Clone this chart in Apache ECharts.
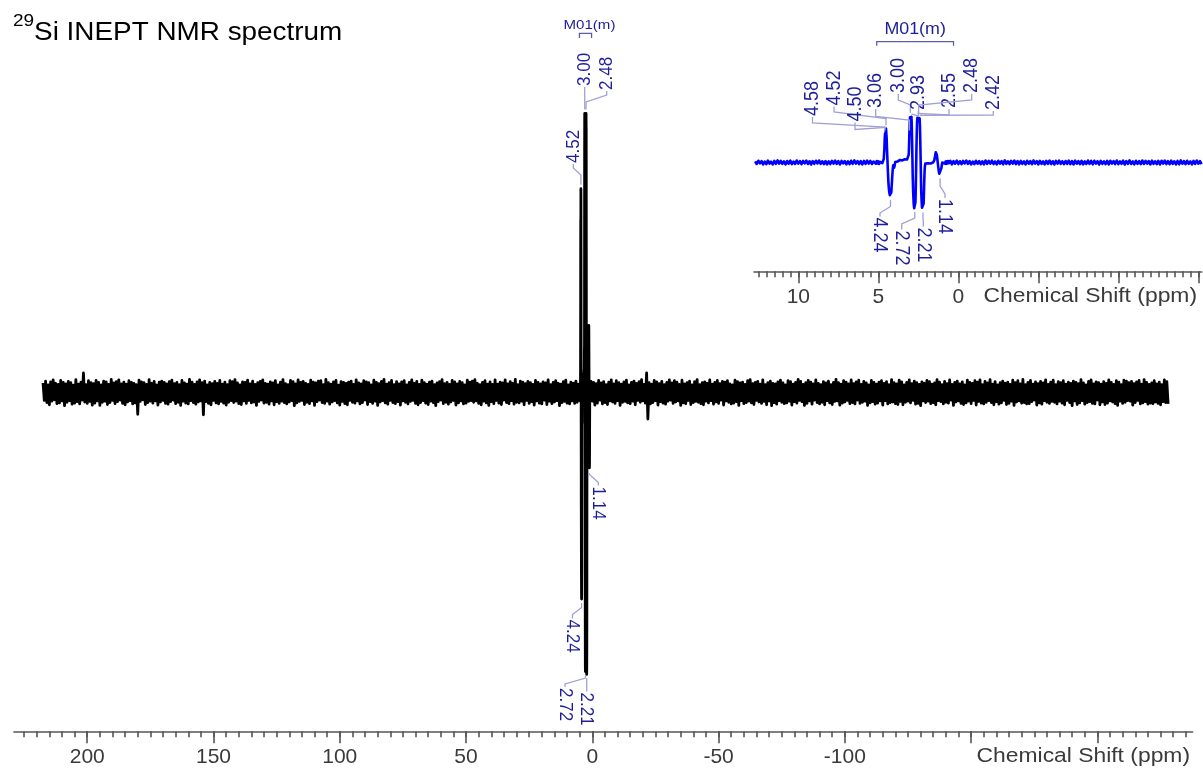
<!DOCTYPE html>
<html><head><meta charset="utf-8">
<script src="https://cdn.jsdelivr.net/npm/echarts@6/dist/echarts.min.js"></script>
<style>html,body{margin:0;padding:0;background:#fff}#c{width:1203px;height:772px}</style>
</head><body><div id="c"></div>
<script>
// ================= DATA =================
const titleSup = '29';
const titleMain = 'Si INEPT NMR spectrum';
const axisTitle = 'Chemical Shift (ppm)';

// main spectrum baseline noise, sampled every 0.5 ppm from 217.5 ppm (a.u.)
const mainPpmStart = 217.5, mainPpmStep = 0.5;
const mainNoise = [
 34,-28,41,-36,27,-44,38,-31,45,-26,33,-40,29,-37,43,-30,36,-47,31,-35,
 40,-29,35,-42,26,-38,46,-33,30,-41,37,-27,70,-34,28,-39,42,-32,35,-45,
 32,-38,43,-30,36,-46,27,-35,41,-31,38,-43,29,-36,47,-28,34,-40,39,-33,
 45,-27,31,-39,37,-44,30,-34,42,-29,36,-41,33,-37,28,-78,44,-32,38,-26,
 35,-43,29,-36,46,-31,33,-38,40,-30,27,-45,37,-34,41,-28,36,-39,31,-42,
 39,-33,44,-27,32,-40,36,-35,28,-46,43,-31,34,-38,30,-41,47,-29,37,-36,
 29,-42,38,-34,45,-30,35,-80,41,-33,27,-39,36,-44,32,-28,40,-37,33,-41,
 43,-32,30,-38,37,-45,28,-35,42,-29,39,-36,46,-31,34,-40,27,-43,38,-30,
 36,-39,44,-28,31,-37,41,-34,29,-46,35,-32,40,-27,45,-38,33,-35,30,-42,
 38,-30,34,-44,42,-33,27,-39,37,-31,46,-36,32,-41,28,-34,43,-29,39,-47,
 31,-37,45,-32,36,-28,40,-43,33,-35,29,-40,44,-30,37,-46,34,-33,41,-27,
 42,-36,28,-39,47,-31,35,-42,30,-34,38,-29,43,-37,26,-45,39,-32,36,-40,
 33,-44,37,-28,41,-35,29,-38,45,-30,34,-41,31,-36,42,-27,38,-43,35,-33,
 27,-39,44,-31,36,-46,32,-34,40,-29,47,-37,30,-42,35,-28,43,-36,28,-40,
 39,-33,31,-45,38,-30,42,-35,27,-41,36,-32,45,-28,33,-39,40,-44,29,-36,
 44,-29,35,-38,30,-43,37,-31,41,-36,28,-47,34,-33,39,-27,46,-40,32,-35,
 36,-42,29,-34,43,-28,38,-45,31,-37,40,-30,35,-41,27,-38,44,-32,37,-29,
 41,-35,46,-30,33,-39,28,-44,36,-31,42,-37,30,-46,38,-33,29,-40,45,-28,
 30,-38,37,-43,34,-27,45,-36,31,-40,39,-29,33,-42,47,-35,28,-37,41,-31,
 37,-44,32,-28,40,-39,35,-33,29,-45,43,-30,36,-38,31,-41,38,-27,34,-43,
 45,-31,28,-40,36,-34,42,-29,33,-47,30,-36,39,-32,44,-38,27,-41,37,-30,
 33,-39,41,-35,30,-44,38,-28,35,-42,29,-37,46,-33,40,-31,36,-45,32,-38,
 43,-27,34,-41,39,-36,28,-43,37,-30,45,-34,31,-39,42,-29,35,-46,30,-35,
 38,-32,44,-37,27,-40,36,-31,41,-44,33,-28,39,-35,46,-30,29,-38,70,-95,
 35,-41,30,-36,43,-29,38,-45,32,-33,40,-38,28,-42,36,-31,45,-27,34,-39,
 42,-34,37,-30,29,-46,44,-37,31,-40,35,-28,41,-43,27,-36,39,-32,46,-35,
 28,-40,35,-44,38,-31,33,-37,45,-29,30,-42,36,-34,43,-39,32,-27,40,-45,
 37,-30,42,-35,31,-41,27,-38,44,-33,39,-46,34,-29,37,-40,29,-36,42,-31,
 46,-37,32,-43,36,-28,40,-34,30,-39,45,-32,28,-44,35,-30,41,-47,33,-36,
 31,-42,38,-29,44,-35,34,-40,27,-37,42,-31,39,-45,30,-33,36,-38,47,-28,
 40,-33,29,-46,35,-39,43,-30,37,-42,31,-27,45,-36,33,-41,28,-35,39,-44,
 34,-29,41,-37,28,-43,36,-32,47,-30,35,-45,30,-38,42,-34,37,-28,31,-40,
 45,-36,32,-41,38,-27,44,-39,29,-35,40,-31,34,-46,27,-37,43,-33,36,-42,
 30,-38,37,-30,42,-45,33,-29,39,-41,28,-36,46,-34,35,-40,31,-43,44,-32,
 38,-44,27,-35,36,-31,45,-37,32,-28,41,-42,35,-39,29,-47,38,-30,33,-36,
 43,-31,39,-40,30,-36,34,-44,46,-29,37,-33,28,-41,40,-35,32,-38,45,-27,
 29,-46,36,-34,41,-30,31,-39,38,-43,27,-37,44,-31,36,-40,33,-28,42,-45,
 37,-32,45,-38,28,-41,40,-35,34,-29,46,-36,30,-44,39,-33,27,-42,35,-37,
 41,-28,33,-43,37,-39,29,-31,44,-46,35,-34,42,-30,31,-38,47,-36,28,-41,
 36,-40,43,-33,30,-27,38,-45,32,-37,40,-42,34,-29,45,-35,29,-39,37,-32,
 44,-35,28,-41,39,-31,35,-38,42,-44,30,-28,37,-36,33,-47,41,-30,36,-43,
 32,-37,46,-29,34,-42,27,-36,40,-33,45,-39,31,-41,38,-27,35,-44,30,-34,
 39,-43,33,-38,45,-30,36,-34,29,-40,42,-46,37,-31,28,-39,44,-35,41,-29,
 35,-31,40,-45,32,-36,38,-28,43,-41,30,-37,46,-33,36,-42,29,-38,34,-40,
 42,-34,31,-39,37,-44,28,-33,45,-36,39,-41
];

// inset baseline noise, sampled every 0.1 ppm from 12.7 ppm (a.u.)
const insetPpmStart = 12.7, insetPpmStep = 0.1;
const insetNoise = [
 24,-31,38,-17,29,-42,21,-35,40,-26,18,-39,33,-28,44,-22,35,-30,25,-41,
 32,-26,41,-35,19,-30,42,-23,28,-37,36,-20,40,-32,27,-44,30,-27,38,-21,
 43,-29,26,-36,31,-40,22,-33,36,-25,41,-31,29,-42,34,-19,31,-38,24,-34,
 37,-28,44,-23,30,-35,28,-41,33,-29,39,-22,35,-32,20,-37,42,-26,31,-39,
 27,-33,38,-30,23,-43,36,-24,40,-31,29,-36,25,-40,34,-27,43,-22,32,-35,
 39,-25,30,-38,35,-32,22,-42,37,-29,28,-34,41,-23,33,-39,30,-28,44,-36,
 26,-31,36,-41,29,-26,42,-33,27,-37,35,-21,40,-30,32,-43,21,-35,38,-27,
 31,-37,25,-40,43,-28,34,-24,39,-33,22,-41,37,-26,30,-38,45,-29,27,-34,
 36,-22,41,-34,28,-39,33,-30,24,-42,38,-27,31,-36,44,-25,29,-40,35,-31,
 23,-38,34,-29,40,-33,27,-43,36,-24,42,-30,26,-37,32,-28,39,-35,30,-41,
 41,-27,29,-36,35,-40,24,-31,43,-28,33,-38,37,-22,28,-44,36,-29,25,-33,
 34,-40,38,-25,30,-34,42,-37,26,-30,39,-43,31,-27,45,-32,23,-39,37,-28,
 28,-35,43,-31,36,-26,32,-41,40,-29,27,-36,34,-42,38,-24,41,-33,29,-37,
 39,-30,26,-43,33,-38,44,-27,31,-35,37,-28,22,-40,35,-31,42,-26,30,-36
];

// signal region of the spectrum: [ppm, intensity a.u.]
const signal = [
 [5.20,20],[5.15,-25],[5.10,30],[5.05,-20],[5.00,25],[4.95,-30],[4.90,15],[4.85,-22],[4.80,28],[4.75,-15],
 [4.70,20],[4.66,80],[4.62,300],[4.60,520],[4.58,620],[4.56,560],[4.54,600],[4.52,730],[4.50,690],[4.48,520],
 [4.46,300],[4.43,60],[4.40,-200],[4.37,-420],[4.34,-560],[4.31,-650],[4.28,-700],[4.26,-730],[4.24,-740],[4.22,-720],
 [4.19,-640],[4.16,-480],[4.13,-300],[4.10,-150],[4.07,-60],[4.04,-90],[4.01,-110],[3.98,-60],[3.94,10],[3.90,30],
 [3.85,45],[3.80,20],[3.75,50],[3.70,35],[3.65,55],[3.60,40],[3.55,65],[3.50,45],[3.45,60],[3.40,40],
 [3.35,70],[3.30,55],[3.25,80],[3.20,65],[3.16,110],[3.13,150],[3.10,170],[3.08,350],[3.06,620],[3.04,850],
 [3.02,970],[3.00,1000],[2.98,930],[2.96,900],[2.93,980],[2.91,800],[2.89,450],[2.87,100],[2.85,-300],[2.82,-650],
 [2.79,-880],[2.76,-980],[2.74,-1000],[2.72,-1000],[2.70,-960],[2.68,-850],[2.66,-550],[2.64,-150],[2.62,250],[2.60,600],
 [2.58,850],[2.56,960],[2.55,990],[2.53,920],[2.51,960],[2.48,1000],[2.46,970],[2.44,920],[2.42,950],[2.40,800],
 [2.38,500],[2.36,150],[2.34,-250],[2.32,-600],[2.29,-850],[2.27,-970],[2.25,-1000],[2.23,-1010],[2.21,-1010],[2.19,-970],
 [2.17,-880],[2.15,-650],[2.13,-400],[2.11,-200],[2.09,-80],[2.06,-20],[2.02,-40],[1.98,-10],[1.94,-35],[1.90,-15],
 [1.86,-30],[1.82,-5],[1.78,-40],[1.74,-20],[1.70,-45],[1.66,-15],[1.62,-30],[1.58,0],[1.54,20],[1.50,50],
 [1.47,100],[1.44,170],[1.41,220],[1.39,240],[1.37,225],[1.34,160],[1.31,70],[1.28,-20],[1.25,-110],[1.22,-190],
 [1.19,-240],[1.16,-270],[1.14,-275],[1.12,-260],[1.09,-200],[1.06,-120],[1.03,-50],[1.00,0],[0.96,25],[0.92,-20],
 [0.88,30],[0.84,-25],[0.80,20],[0.76,-30],[0.72,25],[0.68,-20],[0.64,30],[0.60,-15]
];

// multiplet annotation
const multipletName = 'M01(m)';
const multipletRange = [5.10, 0.30];

// peak picking
const mainPeakPpm = [3.00, 2.48, 4.52, 1.14, 4.24, 2.72, 2.21];
const mainPeakInt = [1000, 1000, 730, -275, -740, -1000, -1010];
const insetPeakPpm = [4.58, 4.52, 4.50, 3.06, 3.00, 2.93, 2.55, 2.48, 2.42, 4.24, 2.72, 2.21, 1.14];
const insetPeakInt = [620, 730, 690, 620, 1000, 980, 990, 1000, 950, -740, -1000, -1010, -275];

// axis ticks / labels
const mainMajorTicks = [200, 150, 100, 50, 0, -50, -100, -150, -200];
const mainTickLabels = [200, 150, 100, 50, 0, -50, -100];
const insetMajorTicks = [10, 5, 0, -5, -10, -15];
const insetTickLabels = [10, 5, 0];

// ================= LAYOUT (pixels) =================
// [label x centre, leader start y, first leg, second leg]
const mainLabelLayout = [
 [584.7, 87, 5, 6], [606.7, 91, 4, 7], [573.3, 164, 4, 7],
 [598.3, 485.5, 3, 8], [572.5, 618.5, 4, 7], [565, 687, 3, 6], [586.7, 691.5, 5, 5]
];
const insetLabelLayout = [
 [812.5, 117, 6, 4], [834, 106.5, 5.5, 6.5], [855, 122.5, 7, 2], [875.7, 109, 7.5, 3.5],
 [898.3, 94, 6, 5], [918.3, 111, 5, 2], [949, 109, 6, 3], [971.7, 94, 6, 5], [993.3, 111, 4, 5],
 [880, 216.5, 3.5, 6.5], [901.7, 229.5, 5.5, 6], [923.3, 226.5, 4.5, 4], [945, 198, 4, 8]
];

const FONT = '"Liberation Sans", Arial, Helvetica, sans-serif';
const SX = 1.115;
const LABEL_COLOR = '#1e1e9a';
const LEADER_COLOR = '#a0a0d4';
const AXIS_COLOR = '#555555';

// ================= BUILD =================
function minorTicks(hiK, loK, step) { const a = []; for (let k = hiK; k >= loK; k--) a.push(+(k * step).toFixed(3)); return a; }
const mainMinorTicks = minorTicks(45, -47, 5);
const insetMinorTicks = minorTicks(25, -30, 0.5);

function buildSpectrum(start, step, noise) {
  const hi = signal[0][0], lo = signal[signal.length - 1][0];
  const pts = [];
  noise.forEach((v, i) => { const p = +(start - i * step).toFixed(3); if (p > hi || p < lo) pts.push([p, v]); });
  signal.forEach(s => pts.push([s[0], s[1]]));
  pts.sort((a, b) => b[0] - a[0]);
  return pts;
}

function labelRenderer(ppmArr, intArr, layout, fontSize, gap) {
  return function (params, api) {
    const i = params.dataIndex;
    const pk = api.coord([api.value(0), api.value(1)]);
    const L = layout[i];
    const lx = L[0], ly = L[1];
    const s = intArr[i] >= 0 ? 1 : -1;
    const y1 = ly + s * L[2];
    let y2 = y1 + s * L[3];
    const y3 = pk[1] - s * gap;
    if (s * (y3 - y2) < 0) y2 = y3;
    return {
      type: 'group', children: [
        { type: 'polyline', shape: { points: [[lx, ly], [lx, y1], [pk[0], y2], [pk[0], y3]] },
          style: { stroke: LEADER_COLOR, lineWidth: 1.3, fill: 'none' } },
        { type: 'text', x: lx, y: ly - s * 1, rotation: s > 0 ? Math.PI / 2 : -Math.PI / 2, scaleY: SX,
          style: { text: ppmArr[i].toFixed(2), align: 'left', verticalAlign: 'middle', fill: LABEL_COLOR,
                   fontSize: fontSize, fontFamily: FONT } }
      ]
    };
  };
}

function bracketRenderer(yLine, tickLen, textY, textDx, fontSize) {
  return function (params, api) {
    const a = api.coord([api.value(0), 0]), b = api.coord([api.value(1), 0]);
    return {
      type: 'group', children: [
        { type: 'polyline', shape: { points: [[a[0], yLine + tickLen], [a[0], yLine], [b[0], yLine], [b[0], yLine + tickLen]] },
          style: { stroke: '#5c5cae', lineWidth: 1.3, fill: 'none' } },
        { type: 'text', x: (a[0] + b[0]) / 2 + textDx, y: textY, scaleX: SX,
          style: { text: multipletName, align: 'center', verticalAlign: 'middle', fill: LABEL_COLOR, fontSize: fontSize, fontFamily: FONT } }
      ]
    };
  };
}

function axisPair(gridIndex, min, max, majors, labels, minors) {
  const common = { type: 'value', gridIndex: gridIndex, min: min, max: max, inverse: true, position: 'bottom',
                   splitLine: { show: false }, offset: 0 };
  return [
    Object.assign({}, common, {
      axisLine: { show: true, onZero: false, lineStyle: { color: AXIS_COLOR, width: 1.6 } },
      axisTick: { show: true, customValues: majors, length: 12, lineStyle: { color: AXIS_COLOR, width: 1.6 } },
      axisLabel: { show: true, customValues: labels, margin: 15, fontSize: 21, fontFamily: FONT, color: '#3a3a3a' }
    }),
    Object.assign({}, common, {
      axisLine: { show: false, onZero: false },
      axisTick: { show: true, customValues: minors, length: 6, lineStyle: { color: AXIS_COLOR, width: 1.6 } },
      axisLabel: { show: false }
    })
  ];
}

const chart = echarts.init(document.getElementById('c'), null, { renderer: 'canvas' });
const option = {
  backgroundColor: '#ffffff',
  animation: false,
  grid: [
    { left: 14, right: 10.4, top: 40, bottom: 40.7 },
    { left: 754, right: 1.3, top: 60, bottom: 500.7 }
  ],
  xAxis: [].concat(
    axisPair(0, -237.7, 229, mainMajorTicks, mainTickLabels, mainMinorTicks),
    axisPair(1, -15.21, 12.77, insetMajorTicks, insetTickLabels, insetMinorTicks)
  ),
  yAxis: [
    { type: 'value', gridIndex: 0, min: -1214, max: 1263, show: false },
    { type: 'value', gridIndex: 1, min: -2335, max: 2200, show: false }
  ],
  series: [
    { type: 'line', name: 'spectrum', xAxisIndex: 0, yAxisIndex: 0, data: buildSpectrum(mainPpmStart, mainPpmStep, mainNoise),
      showSymbol: false, symbol: 'none', silent: true, lineStyle: { color: '#000', width: 2.8, join: 'round' } },
    { type: 'line', name: 'inset', xAxisIndex: 2, yAxisIndex: 1, data: buildSpectrum(insetPpmStart, insetPpmStep, insetNoise),
      showSymbol: false, symbol: 'none', silent: true, lineStyle: { color: '#0000ff', width: 2.6, join: 'round' } },
    { type: 'custom', xAxisIndex: 0, yAxisIndex: 0, silent: true, z: 5,
      data: mainPeakPpm.map((p, i) => [p, mainPeakInt[i]]),
      renderItem: labelRenderer(mainPeakPpm, mainPeakInt, mainLabelLayout, 17, 4) },
    { type: 'custom', xAxisIndex: 2, yAxisIndex: 1, silent: true, z: 5,
      data: insetPeakPpm.map((p, i) => [p, insetPeakInt[i]]),
      renderItem: labelRenderer(insetPeakPpm, insetPeakInt, insetLabelLayout, 18, 3) },
    { type: 'custom', xAxisIndex: 0, yAxisIndex: 0, silent: true, z: 5, data: [multipletRange],
      renderItem: bracketRenderer(33.3, 4.7, 25.5, 4, 13.5) },
    { type: 'custom', xAxisIndex: 2, yAxisIndex: 1, silent: true, z: 5, data: [multipletRange],
      renderItem: bracketRenderer(41.7, 4, 30, 0, 16) }
  ],
  graphic: [
    { type: 'text', x: 13, y: 13, scaleX: SX, silent: true,
      style: { text: '{sup|' + titleSup + '}{m|' + titleMain + '}', fill: '#000', fontFamily: FONT,
               rich: { sup: { fontSize: 17, lineHeight: 17, verticalAlign: 'top', fontFamily: FONT, fill: '#000' },
                       m: { fontSize: 25, lineHeight: 41, fontFamily: FONT, fill: '#000' } } } },
    { type: 'text', x: 1190, y: 756.7, scaleX: SX, silent: true,
      style: { text: axisTitle, align: 'right', verticalAlign: 'middle', fontSize: 20.5, fontFamily: FONT, fill: '#3a3a3a' } },
    { type: 'text', x: 1197, y: 296.7, scaleX: SX, silent: true,
      style: { text: axisTitle, align: 'right', verticalAlign: 'middle', fontSize: 20.5, fontFamily: FONT, fill: '#3a3a3a' } }
  ]
};
chart.setOption(option);
</script>
</body></html>
